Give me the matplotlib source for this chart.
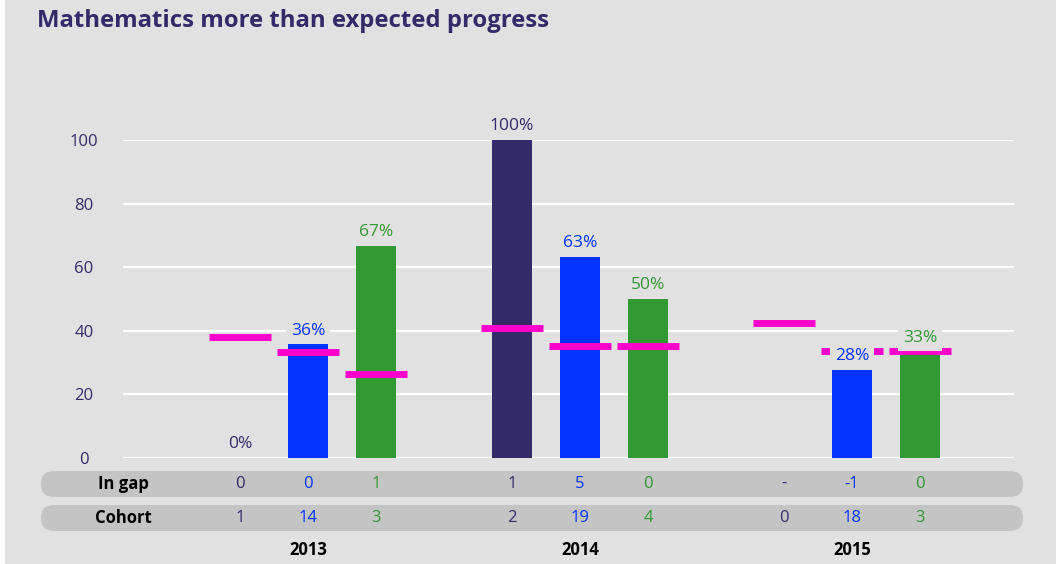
import numpy as np
import matplotlib
matplotlib.use('Agg')
from matplotlib import pyplot as plt
from matplotlib.patches import FancyBboxPatch, Rectangle
from matplotlib.transforms import IdentityTransform, blended_transform_factory

BG = '#e1e1e1'
PILL = '#c4c4c4'
PURPLE = '#332a6a'
BLUE = '#0033ff'
GREEN = '#339933'
MAGENTA = '#ff00cc'

W, H = 1056, 564

years = ['2013', '2014', '2015']
series_colors = [PURPLE, BLUE, GREEN]

# percentage making more than expected progress, per series, per year
purple_pct = [0, 100, np.nan]
blue_pct = [35.7, 63.2, 27.8]
green_pct = [66.7, 50.0, 33.3]

# national comparison (magenta markers)
purple_nat = [38.2, 40.9, 42.6]
blue_nat = [33.2, 35.2, 33.8]
green_nat = [26.3, 35.2, 33.8]

in_gap = [['0', '0', '1'], ['1', '5', '0'], ['-', '-1', '0']]
cohort = [['1', '14', '3'], ['2', '19', '4'], ['0', '18', '3']]

yticks = [0, 20, 40, 60, 80, 100]

plt.rcParams['font.family'] = ['Open Sans', 'DejaVu Sans']

fig = plt.figure(figsize=(W / 100, H / 100), dpi=100)
fig.patch.set_facecolor(BG)
# thin white strip on the left edge
fig.add_artist(Rectangle((0, 0), 5, H, transform=IdentityTransform(),
                         facecolor='white', edgecolor='none', zorder=-2))


def fx(px):
    return px / W


def fy(py):
    return 1 - py / H


ax = fig.add_axes([fx(123), fy(458), fx(1014) - fx(123), fy(140) - fy(458)])
ax.set_facecolor('none')
ax.set_xlim(-117 / 68, 10 + 94 / 68)
ax.set_ylim(0, 100)
for sp in ax.spines.values():
    sp.set_visible(False)
ax.set_xticks([])
ax.set_yticks(yticks)
ax.set_yticklabels([str(t) for t in yticks], ha='center')
ax.tick_params(axis='y', length=0, pad=28, labelsize=12, labelcolor=PURPLE)
ax.grid(axis='y', color='white', linewidth=1.6)
ax.set_axisbelow(True)

pcts = [purple_pct, blue_pct, green_pct]
nats = [purple_nat, blue_nat, green_nat]

for s in range(3):
    xs = np.array([4 * g + s for g in range(3)])
    vals = np.array(pcts[s], dtype=float)
    ax.bar(xs, vals, width=0.6, color=series_colors[s], zorder=2)
    ax.hlines(nats[s], xs - 0.45, xs + 0.45, colors=MAGENTA,
              linewidth=5.0, zorder=3)
    for x, v in zip(xs, vals):
        if np.isnan(v):
            continue
        ax.annotate(f'{round(v)}%', (x, v), xytext=(0, 10),
                    textcoords='offset points', ha='center', va='center',
                    fontsize=12.5, color=series_colors[s], zorder=4,
                    bbox=dict(boxstyle='square,pad=0.25', facecolor=BG,
                              edgecolor='none'))

fig.text(fx(37), fy(21), 'Mathematics more than expected progress',
         ha='left', va='center', fontsize=17.2, fontweight='bold',
         color=PURPLE)

# table rows
for top in (471, 505):
    fig.add_artist(FancyBboxPatch((41, H - top - 26), 982, 26,
                                  boxstyle='round,pad=0,rounding_size=13',
                                  transform=IdentityTransform(),
                                  facecolor=PILL, edgecolor='none',
                                  zorder=-1))

tr = blended_transform_factory(ax.transData, fig.transFigure)
for label, rows, py in (('In gap', in_gap, 484), ('Cohort', cohort, 518)):
    fig.text(fx(123), fy(py), label, ha='center', va='center',
             fontsize=12, fontweight='bold', color='black')
    for g in range(3):
        for s in range(3):
            ax.text(4 * g + s, fy(py), rows[g][s], transform=tr,
                    ha='center', va='center', fontsize=12,
                    color=series_colors[s], clip_on=False)

for g, yr in enumerate(years):
    ax.text(4 * g + 1, fy(550), yr, transform=tr, ha='center', va='center',
            fontsize=12, fontweight='bold', color='black', clip_on=False)

fig.savefig('out.png', dpi=100, facecolor=BG)
